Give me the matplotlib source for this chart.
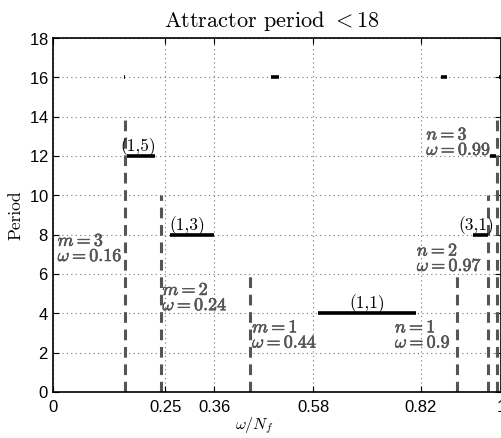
import matplotlib.pyplot as plt
import matplotlib.patheffects as pe

plt.rcParams['mathtext.fontset'] = 'cm'
plt.rcParams['axes.formatter.use_mathtext'] = True

# frequency ticks and period ticks
x_ticks = [0, 0.25, 0.36, 0.58, 0.82, 1]
y_ticks = list(range(0, 19, 2))

# boundary lines: left (m) and right (n) families
m_vals = [3, 2, 1]
m_omega = [0.16, 0.24, 0.44]
m_top = [14, 10, 6]
n_vals = [1, 2, 3]
n_omega = [0.9, 0.97, 0.99]
n_top = [6, 10, 14]

# label positions for the boundary lines (period value)
m_label_y = [7.3, 4.8, 2.9]
n_label_y = [2.9, 6.8, 12.7]

# attractor period plateaus: (start, end, period)
seg_start = [0.165, 0.26, 0.59, 0.937, 0.975, 0.158, 0.486, 0.866, 0.994]
seg_end = [0.228, 0.36, 0.81, 0.971, 0.988, 0.161, 0.504, 0.879, 1.0]
seg_period = [12, 8, 4, 8, 12, 16, 16, 16, 16]

# plateau labels
lab_text = ['(1,5)', '(1,3)', '(1,1)', '(3,1)']
lab_x = [0.19, 0.30, 0.70, 0.944]
lab_y = [12.25, 8.25, 4.25, 8.25]

fig = plt.figure(figsize=(5.01, 4.38), dpi=100)
ax = fig.add_axes([53 / 501, 46 / 438, 448.5 / 501, 354 / 438])

gray = '#555555'
bold = [pe.withStroke(linewidth=0.45, foreground=gray)]

for w, top in zip(m_omega + n_omega, m_top + n_top):
    ax.plot([w, w], [0, top], color=gray, lw=2.2, ls=(0, (3.5, 2.2)), zorder=2)

for a, b, p in zip(seg_start, seg_end, seg_period):
    ax.plot([a, b], [p, p], color='black', lw=2.6, solid_capstyle='butt', zorder=3)

for t, x, y in zip(lab_text, lab_x, lab_y):
    ax.text(x, y, t, ha='center', va='baseline', fontsize=12.5, family='cmr10')

for m, w, y in zip(m_vals, m_omega, m_label_y):
    s = f'$m = {m}$\n$\\omega = {w:g}$'
    if m == 3:
        ax.text(w - 0.005, y, s, ha='right', va='center', multialignment='left',
                color=gray, fontsize=13, linespacing=0.8, path_effects=bold)
    else:
        ax.text(w + 0.004, y, s, ha='left', va='center', multialignment='left',
                color=gray, fontsize=13, linespacing=0.8, path_effects=bold)

for n, w, y in zip(n_vals, n_omega, n_label_y):
    s = f'$n = {n}$\n$\\omega = {w:g}$'
    ax.text(w - 0.013, y, s, ha='right', va='center', multialignment='left',
            color=gray, fontsize=13, linespacing=0.8, path_effects=bold)

ax.set_xlim(0, 1)
ax.set_ylim(0, 18)
ax.set_xticks(x_ticks)
ax.set_xticklabels([f'{v:g}' for v in x_ticks])
ax.set_yticks(y_ticks)
ax.tick_params(direction='in', labelsize=12, length=4, top=True, right=True)
ax.tick_params(axis='x', pad=6)
ax.tick_params(axis='y', pad=3)
for lbl in ax.get_xticklabels() + ax.get_yticklabels():
    lbl.set_family('Liberation Sans')
ax.grid(True, ls=(0, (1, 3)), color='#777777', lw=0.8)
ax.set_axisbelow(True)
for s in ax.spines.values():
    s.set_linewidth(1.2)

ax.set_title('Attractor period $< 18$', family='cmr10', fontsize=16, pad=8, x=0.487)
ax.set_xlabel(r'$\omega/N_f$', fontsize=11.5, labelpad=1)
ax.xaxis.set_label_coords(0.45, -0.065)
ax.set_ylabel('Period', family='cmr10', fontsize=12.5, labelpad=4)

fig.savefig('out.png', dpi=100)
